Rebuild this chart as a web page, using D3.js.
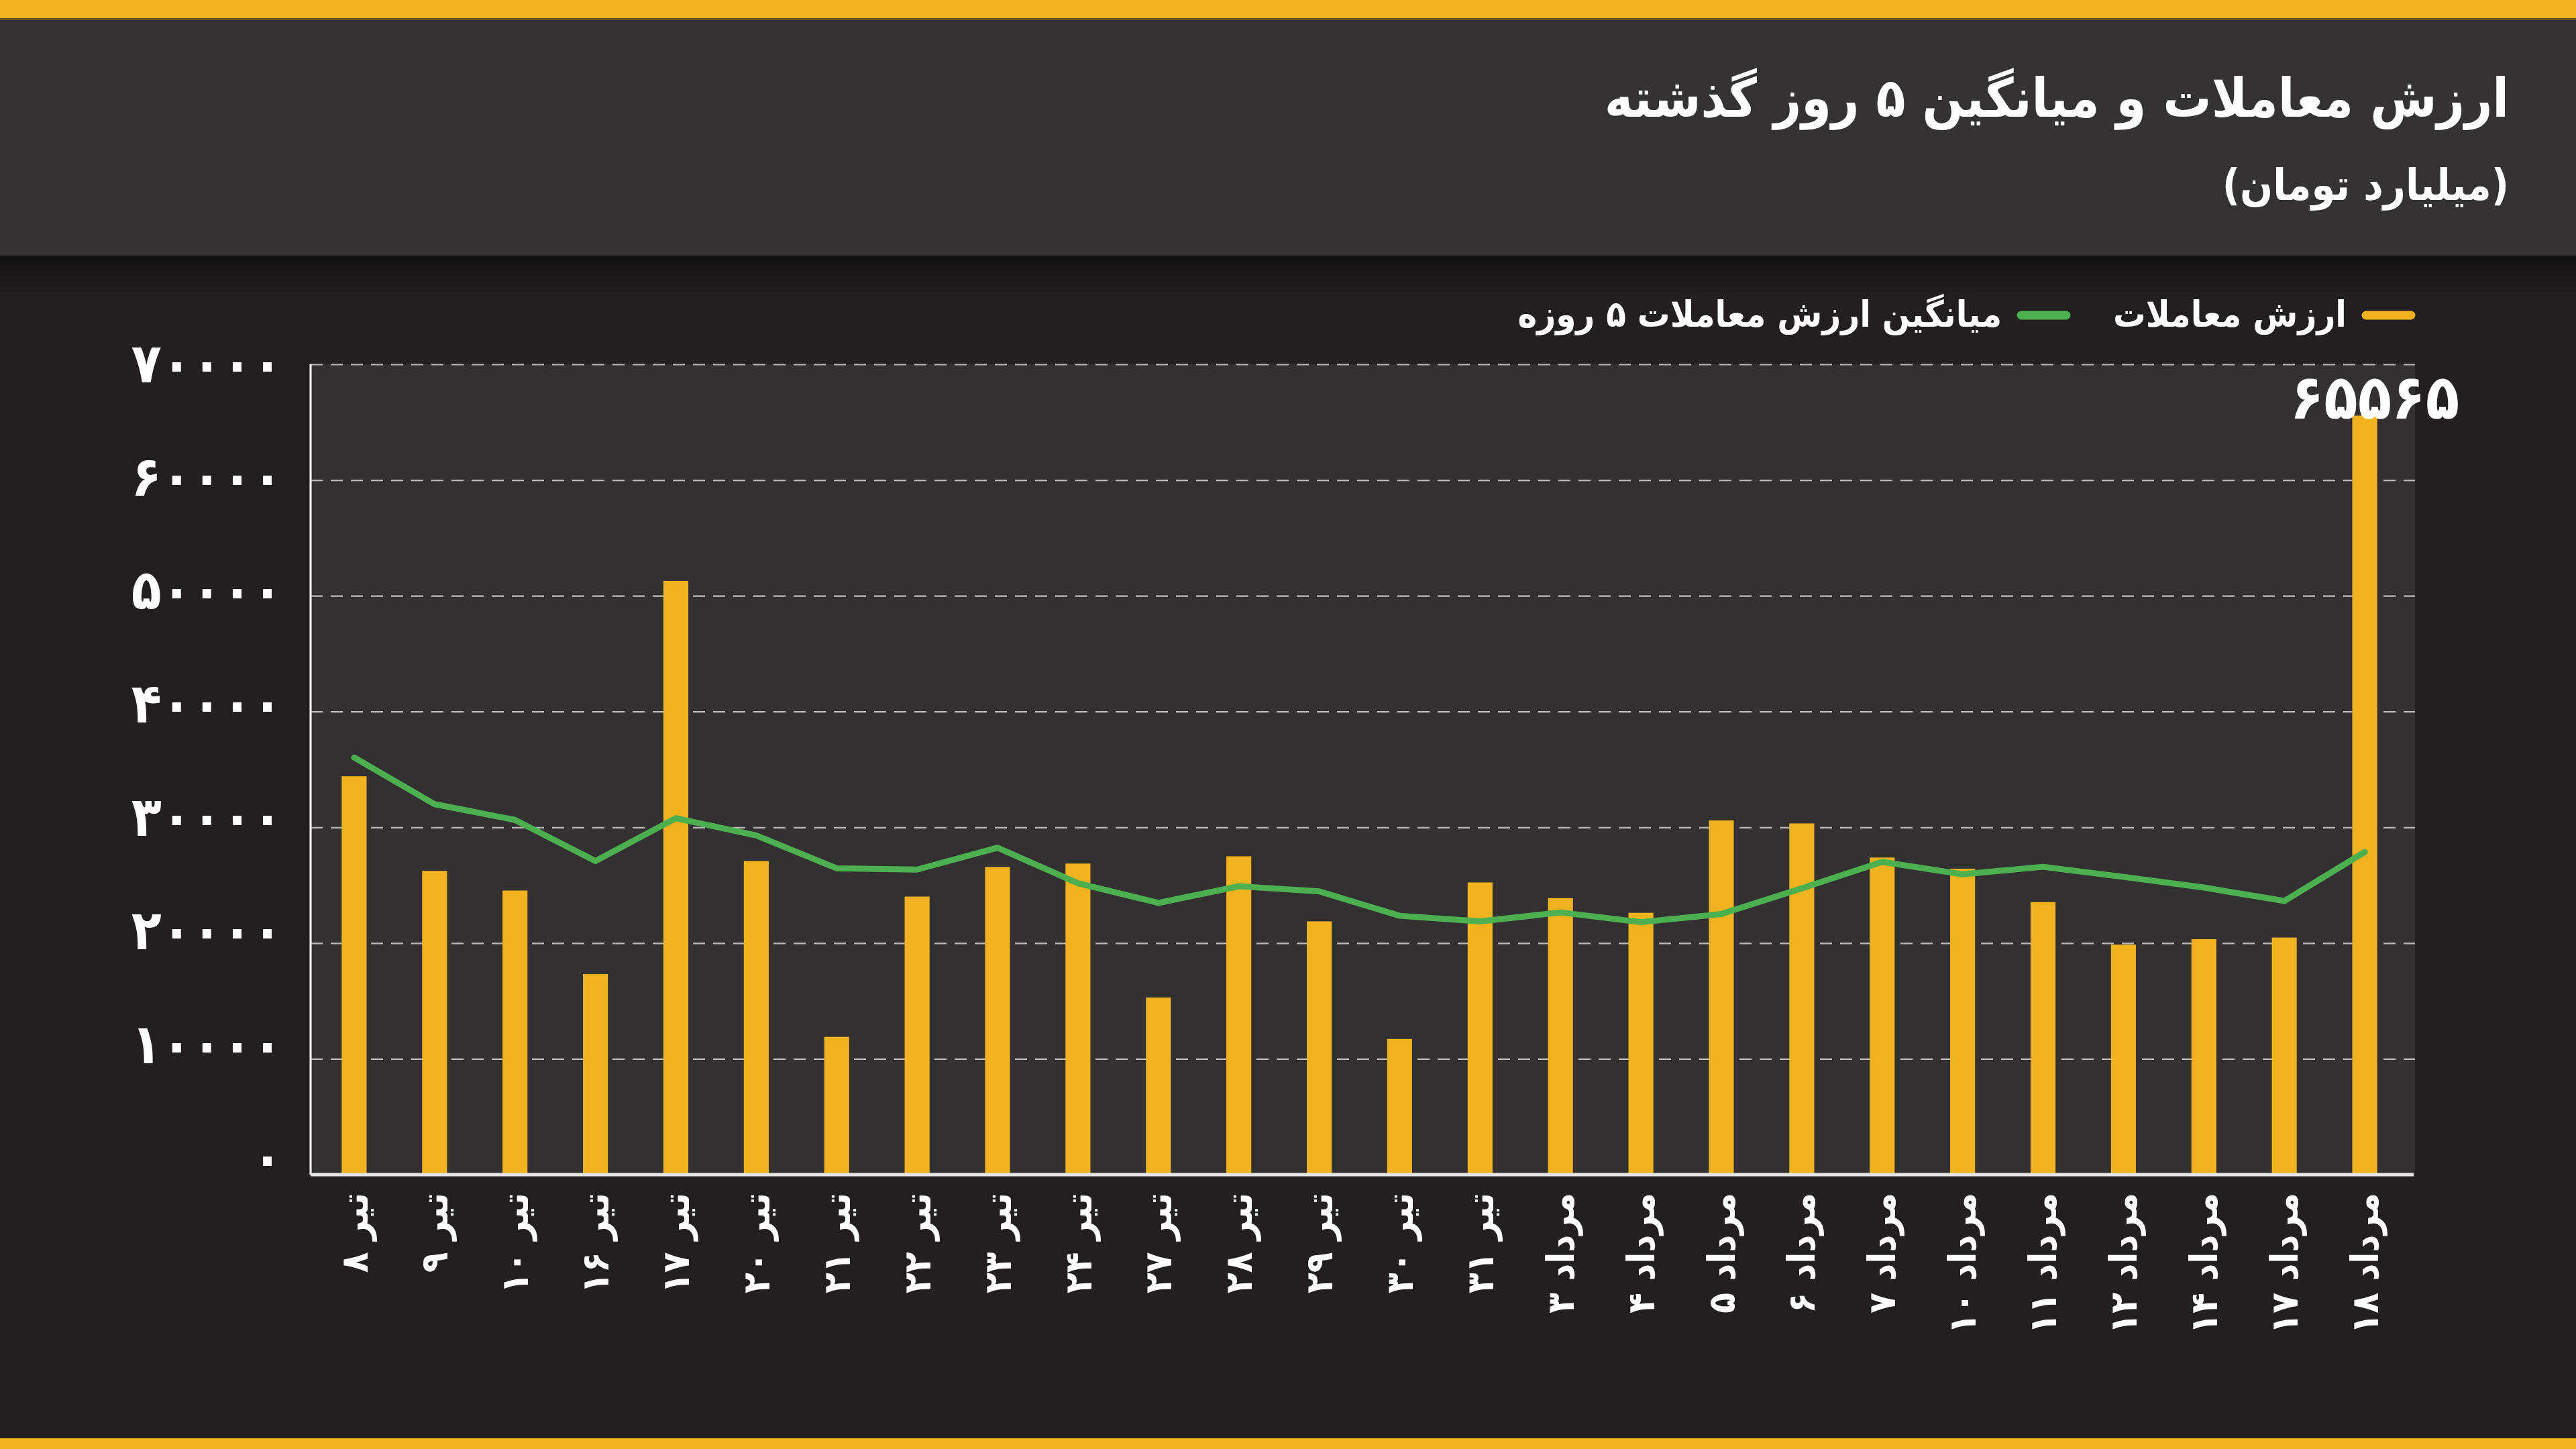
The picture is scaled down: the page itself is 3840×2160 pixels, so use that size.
<!DOCTYPE html>
<html>
<head>
<meta charset="utf-8">
<script src="https://cdn.jsdelivr.net/npm/d3@7"></script>
<style>
  html, body { margin: 0; padding: 0; background: #231f20; }
  svg { display: block; }
  text { font-family: "DejaVu Sans Condensed", "DejaVu Sans", sans-serif; font-weight: bold; fill: #ffffff; }
</style>
</head>
<body>
<div id="chart"></div>
<script>
// values (billion toman)
var days = ["تیر ۸", "تیر ۹", "تیر ۱۰", "تیر ۱۶", "تیر ۱۷", "تیر ۲۰", "تیر ۲۱", "تیر ۲۲", "تیر ۲۳", "تیر ۲۴",
            "تیر ۲۷", "تیر ۲۸", "تیر ۲۹", "تیر ۳۰", "تیر ۳۱", "مرداد ۳", "مرداد ۴", "مرداد ۵", "مرداد ۶", "مرداد ۷",
            "مرداد ۱۰", "مرداد ۱۱", "مرداد ۱۲", "مرداد ۱۴", "مرداد ۱۷", "مرداد ۱۸"];
var tradeValue = [34410, 26240, 24540, 17330, 51290, 27090, 11900, 24020, 26580, 26870,
                  15300, 27500, 21880, 11720, 25240, 23880, 22620, 30600, 30340, 27390,
                  26430, 23540, 19870, 20340, 20480, 65565];
var avg5 = [36030, 32000, 30640, 27090, 30790, 29300, 26460, 26350, 28240, 25170,
            23470, 24910, 24470, 22360, 21880, 22650, 21810, 22510, 24730, 27020,
            25940, 26590, 25720, 24800, 23640, 27870];
var yTicks = [0, 10000, 20000, 30000, 40000, 50000, 60000, 70000];
var legendNames = ["ارزش معاملات", "میانگین ارزش معاملات ۵ روزه"];
var titleText = "ارزش معاملات و میانگین ۵ روز گذشته";
var subtitleText = "(میلیارد تومان)";

var W = 3840, H = 2160;
var yellow = "#f0b21e", green = "#4caf50";
var plotL = 463, plotR = 3600, plotT = 543, plotB = 1751;

var faDigits = function(n) {
	return String(n).replace(/[0-9]/g, function(d) { return "۰۱۲۳۴۵۶۷۸۹"[+d]; });
};

var svg = d3.select("#chart")
	.append("svg")
	.attr("width", W)
	.attr("height", H);

var defs = svg.append("defs");
var grad = defs.append("linearGradient")
	.attr("id", "shade")
	.attr("x1", 0).attr("y1", 0).attr("x2", 0).attr("y2", 1);
grad.append("stop").attr("offset", "0%").attr("stop-color", "#111010");
grad.append("stop").attr("offset", "100%").attr("stop-color", "#231f20");

// background pieces
svg.append("rect").attr("x", 0).attr("y", 0).attr("width", W).attr("height", H).attr("fill", "#231f20");
svg.append("rect").attr("x", 0).attr("y", 27).attr("width", W).attr("height", 354).attr("fill", "#353233");
svg.append("rect").attr("x", 0).attr("y", 381).attr("width", W).attr("height", 60).attr("fill", "url(#shade)");
svg.append("rect").attr("x", 0).attr("y", 0).attr("width", W).attr("height", 27).attr("fill", yellow);
svg.append("rect").attr("x", 0).attr("y", 27).attr("width", W).attr("height", 3).attr("fill", "#6b5420");
svg.append("rect").attr("x", 0).attr("y", 2144).attr("width", W).attr("height", 16).attr("fill", yellow);

// title
svg.append("text")
	.attr("x", 3740).attr("y", 174)
	.attr("text-anchor", "end")
	.attr("font-size", 80)
	.text(titleText);
svg.append("text")
	.attr("x", 3740).attr("y", 298)
	.attr("text-anchor", "end")
	.attr("font-size", 64)
	.text(subtitleText);

// legend (right to left)
var legendItems = [
	{ name: legendNames[0], color: yellow, x: 3600 },
	{ name: legendNames[1], color: green, x: 3086 }
];
var lg = svg.append("g").attr("class", "legend");
legendItems.forEach(function(it) {
	lg.append("line")
		.attr("x1", it.x - 6).attr("x2", it.x - 73)
		.attr("y1", 470).attr("y2", 470)
		.attr("stroke", it.color)
		.attr("stroke-width", 13)
		.attr("stroke-linecap", "round");
	lg.append("text")
		.attr("x", it.x - 102).attr("y", 487)
		.attr("text-anchor", "end")
		.attr("font-size", 54)
		.text(it.name);
});

// scales
var x = d3.scaleBand()
	.domain(days)
	.range([468, 3585])
	.paddingInner(0.69)
	.paddingOuter(0.345);
var y = d3.scaleLinear()
	.domain([0, 70000])
	.range([plotB, plotT]);
// tick labels in the source sit slightly tighter than the grid
var yLab = d3.scaleLinear()
	.domain([0, 70000])
	.range([plotB - 24, plotT]);

// plot background
svg.append("rect")
	.attr("x", plotL).attr("y", plotT)
	.attr("width", plotR - plotL).attr("height", plotB - plotT)
	.attr("fill", "#333031");

// grid
var grid = svg.append("g")
	.attr("transform", "translate(" + plotL + ",0)")
	.call(d3.axisLeft(y).tickValues(yTicks.slice(1)).tickSize(-(plotR - plotL)).tickFormat(""));
grid.select(".domain").remove();
grid.selectAll(".tick line")
	.attr("stroke", "#bdbbbb")
	.attr("stroke-width", 2.2)
	.attr("stroke-dasharray", "18,12");

// y labels
var yAxis = svg.append("g")
	.attr("transform", "translate(" + 421 + ",0)")
	.call(d3.axisLeft(yLab).tickValues(yTicks).tickSize(0).tickFormat(faDigits));
yAxis.select(".domain").remove();
yAxis.selectAll(".tick text")
	.attr("x", 0)
	.attr("dy", "0.32em")
	.attr("font-size", 82)
	.attr("font-family", "\"DejaVu Sans\", sans-serif")
	.attr("fill", "#ffffff");

// bars
svg.append("g")
	.selectAll("rect")
	.data(tradeValue)
	.join("rect")
	.attr("x", function(d, i) { return x(days[i]); })
	.attr("y", function(d) { return y(d); })
	.attr("width", x.bandwidth())
	.attr("height", function(d) { return plotB - y(d); })
	.attr("fill", yellow);

// axis lines
svg.append("line")
	.attr("x1", plotL).attr("x2", plotL)
	.attr("y1", plotT).attr("y2", plotB)
	.attr("stroke", "#ffffff").attr("stroke-width", 3);

var xAxis = svg.append("g")
	.attr("transform", "translate(0," + plotB + ")")
	.call(d3.axisBottom(x).tickSize(0));
xAxis.select(".domain")
	.attr("d", "M" + plotL + ",0H" + (plotR - 2))
	.attr("stroke", "#e6e6e6")
	.attr("stroke-width", 5);
xAxis.selectAll(".tick text")
	.attr("transform", "translate(0,27) rotate(-90)")
	.attr("x", 0).attr("y", 0)
	.attr("dy", "0.35em")
	.attr("text-anchor", "end")
	.attr("font-size", 56)
	.attr("fill", "#ffffff");

// 5-day average line
var line = d3.line()
	.x(function(d, i) { return x(days[i]) + x.bandwidth() / 2; })
	.y(function(d) { return y(d); });
svg.append("path")
	.datum(avg5)
	.attr("d", line)
	.attr("fill", "none")
	.attr("stroke", green)
	.attr("stroke-width", 9)
	.attr("stroke-linejoin", "round")
	.attr("stroke-linecap", "round");

// label of the last bar
var last = tradeValue.length - 1;
svg.append("text")
	.attr("x", x(days[last]) + x.bandwidth() / 2 + 15)
	.attr("y", y(tradeValue[last]) + 4)
	.attr("text-anchor", "middle")
	.attr("font-size", 92)
	.attr("font-family", "\"DejaVu Sans\", sans-serif")
	.text(faDigits(tradeValue[last]));
</script>
</body>
</html>
